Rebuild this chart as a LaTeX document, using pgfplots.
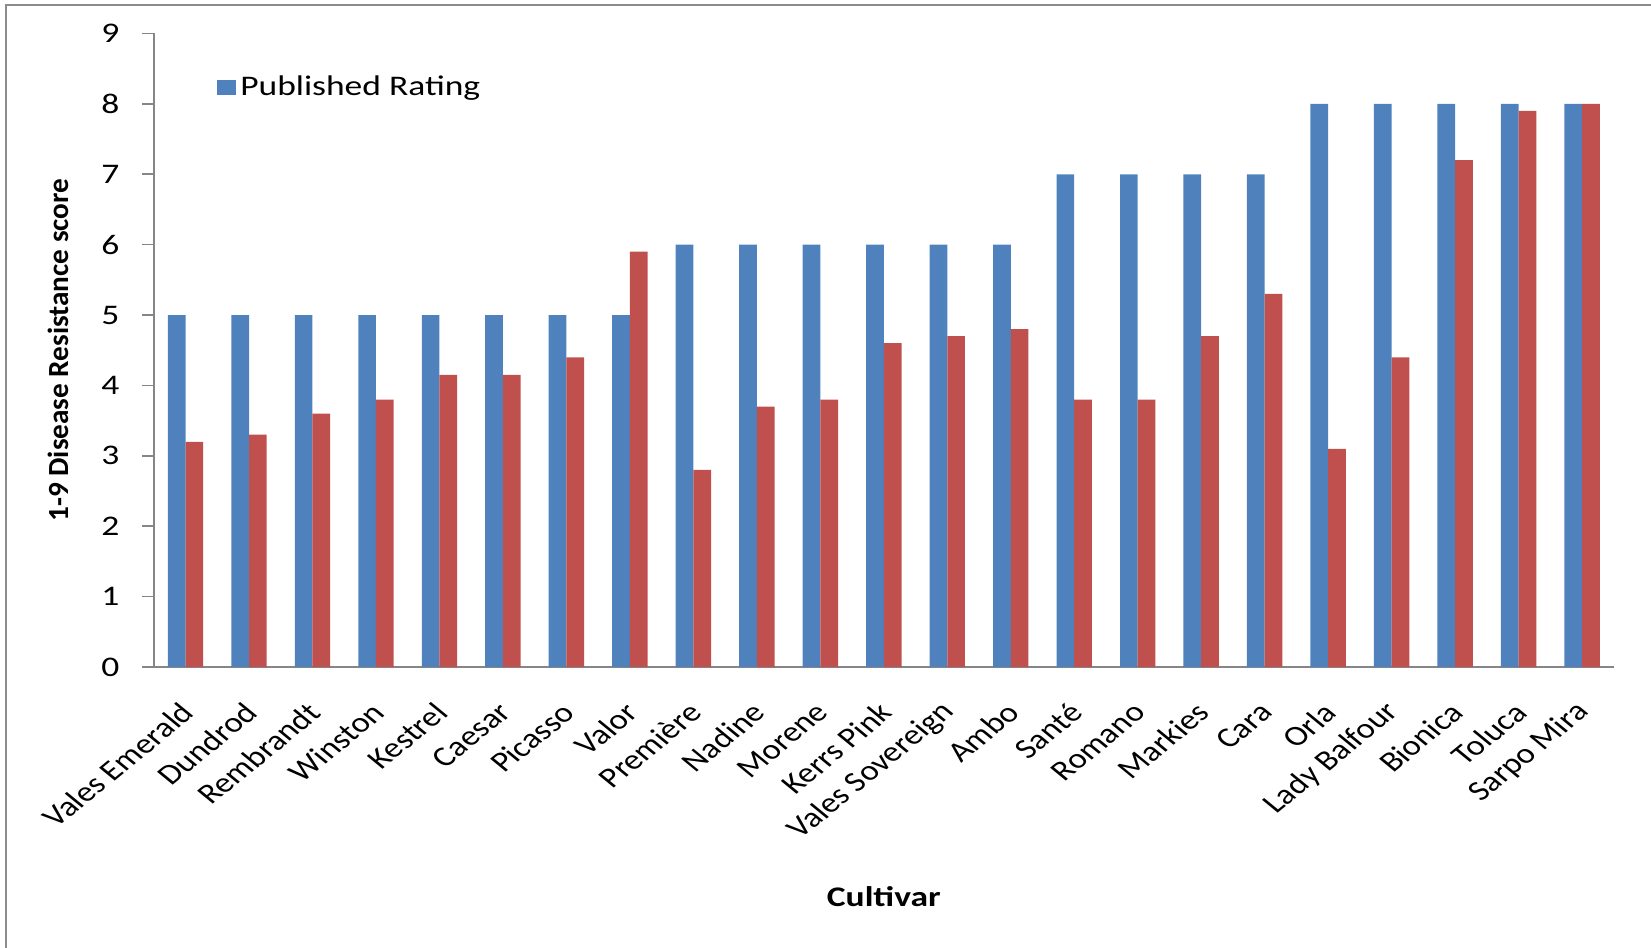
\documentclass[border=0pt]{standalone}
\usepackage{fontspec}
\setmainfont{Carlito}
\usepackage{pgfplots}
\pgfplotsset{compat=1.18}
\usepackage{pgfplotstable}

\definecolor{pubblue}{HTML}{4F81BD}
\definecolor{obsred}{HTML}{C0504D}
\definecolor{axisgray}{HTML}{868686}
\definecolor{framegray}{HTML}{8C8C8C}

% cultivar index, published rating, observed score
\pgfplotstableread{
idx published observed
0  5 3.2
1  5 3.3
2  5 3.6
3  5 3.8
4  5 4.15
5  5 4.15
6  5 4.4
7  5 5.9
8  6 2.8
9  6 3.7
10 6 3.8
11 6 4.6
12 6 4.7
13 6 4.8
14 7 3.8
15 7 3.8
16 7 4.7
17 7 5.3
18 8 3.1
19 8 4.4
20 8 7.2
21 8 7.9
22 8 8.0
}\ratings

\newcommand{\wide}[1]{\scalebox{1.25}[1]{#1}}

\begin{document}
\begin{tikzpicture}
\useasboundingbox (-76.9pt,-140.5pt) rectangle (748.6pt,333.5pt);
% outer chart frame (top and left edges)
\draw[framegray, line width=1pt] (-73.9pt,-141pt) -- (-73.9pt,331.2pt) -- (749pt,331.2pt);
\begin{axis}[
  scale only axis,
  width=730pt, height=316.75pt,
  xmin=-0.5, xmax=22.5,
  ymin=0, ymax=9,
  axis x line*=bottom,
  axis y line*=left,
  axis line style={axisgray, line width=0.8pt},
  ytick={0,...,9},
  xtick={0,...,22},
  xticklabels={Vales Emerald, Dundrod, Rembrandt, Winston, Kestrel, Caesar,
    Picasso, Valor, Première, Nadine, Morene, Kerrs Pink, Vales Sovereign,
    Ambo, Santé, Romano, Markies, Cara, Orla, Lady Balfour, Bionica,
    Toluca, Sarpo Mira},
  x tick style={draw=none},
  y tick style={axisgray, line width=0.8pt},
  major tick length=5.8pt,
  tick align=outside,
  /pgf/number format/assume math mode=true,
  ticklabel style={font=\fontsize{14.2}{17}\selectfont, text=black},
  yticklabel style={xshift=-7pt, xscale=1.25},
  xticklabel style={xscale=1.22, rotate=45, anchor=east, xshift=-6.3pt, yshift=-10.9pt},
  ylabel={1-9 Disease Resistance score},
  ylabel style={font=\bfseries\fontsize{14.6}{17}\selectfont, at={(-47.9pt,158.4pt)}, anchor=center, rotate=0},
  xlabel={\wide{Cultivar}},
  xlabel style={font=\bfseries\fontsize{14.2}{17}\selectfont, at={(365pt,-115pt)}, anchor=center},
  ybar, bar width=8.85pt,
  legend style={at={(31.4pt,289.85pt)}, anchor=west, draw=none, fill=none,
    inner sep=0pt, font=\fontsize{14.2}{17}\selectfont,
    /tikz/every even column/.append style={column sep=0pt}},
  legend cell align=left,
  legend image code/.code={\fill[#1] (0pt,-3.75pt) rectangle (9.65pt,3.75pt);},
]
\addplot[fill=pubblue, draw=none, bar shift=-4.425pt] table[x=idx, y=published] {\ratings};
\addlegendentry{\wide{Published Rating}}
\addplot[fill=obsred, draw=none, bar shift=4.425pt, forget plot] table[x=idx, y=observed] {\ratings};
\end{axis}
\end{tikzpicture}
\end{document}
